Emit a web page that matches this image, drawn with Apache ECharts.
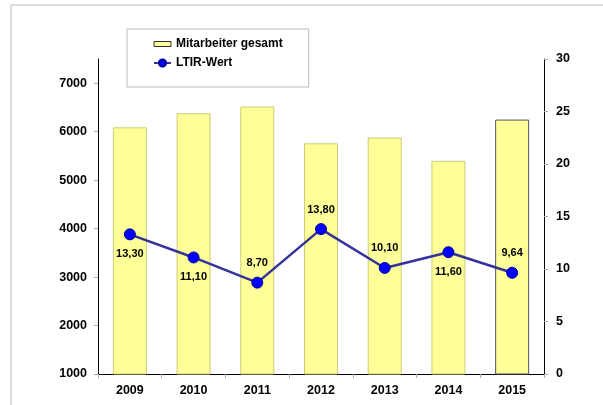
<!DOCTYPE html>
<html>
<head>
<meta charset="utf-8">
<script src="https://cdn.jsdelivr.net/npm/echarts@6/dist/echarts.min.js"></script>
<style>
  html, body { margin: 0; padding: 0; background: #fff; }
  #chart { width: 603px; height: 405px; }
</style>
</head>
<body>
<div id="chart"></div>
<script>
// Daten
const years = ['2009', '2010', '2011', '2012', '2013', '2014', '2015']
const mitarbeiter = [6090, 6380, 6520, 5760, 5880, 5400, 6250]
const ltir = [13.3, 11.1, 8.7, 13.8, 10.1, 11.6, 9.64]
const leftTicks = [1000, 2000, 3000, 4000, 5000, 6000, 7000]
const rightTicks = [0, 5, 10, 15, 20, 25, 30]

// Label oben/unten je Punkt
const labelPos = ['bottom', 'bottom', 'top', 'top', 'top', 'bottom', 'top']

const font = "'Liberation Sans', Arial, sans-serif"
const chart = echarts.init(document.getElementById('chart'))

const barData = mitarbeiter.map((v, i) => {
  if (i === years.length - 1) {
    return { value: v, itemStyle: { borderColor: '#555' } }
  }
  return v
})

const lineData = ltir.map((v, i) => ({
  value: v,
  label: { position: labelPos[i] }
}))

const axisText = { color: '#000', fontSize: 12.5, fontWeight: 'bold', fontFamily: font }

const option = {
  animation: false,
  textStyle: { fontFamily: font },
  graphic: [
    {
      type: 'rect',
      z: -10,
      shape: { x: 11, y: 5, width: 700, height: 500 },
      style: { fill: 'none', stroke: '#b8b8b8', lineWidth: 1 }
    }
  ],
  legend: {
    orient: 'vertical',
    left: 127,
    top: 29,
    padding: [8, 26, 17, 26],
    borderColor: '#bdbdbd',
    borderWidth: 1,
    itemWidth: 17,
    itemHeight: 9,
    itemGap: 5,
    itemTextGap: 3,
    selectedMode: false,
    textStyle: { fontFamily: font, fontSize: 12, fontWeight: 'bold', color: '#000', lineHeight: 14 },
    data: [
      {
        name: 'Mitarbeiter gesamt',
        icon: 'path://M0,0H17V5H0Z',
        itemStyle: { color: '#ffff99', borderColor: '#333', borderWidth: 1 }
      },
      { name: 'LTIR-Wert' }
    ]
  },
  grid: { left: 98, right: 59, top: 59, bottom: 31 },
  xAxis: {
    type: 'category',
    data: years,
    boundaryGap: true,
    axisLine: { lineStyle: { color: '#000', width: 1 } },
    axisTick: { show: true, length: 4, lineStyle: { color: '#aaa' } },
    axisLabel: { ...axisText, margin: 10 }
  },
  yAxis: [
    {
      type: 'value',
      min: 1000,
      max: 7500,
      interval: 1000,
      splitLine: { show: false },
      axisLine: { show: true, lineStyle: { color: '#000', width: 1 } },
      axisTick: { show: true, length: 4, lineStyle: { color: '#aaa' }, customValues: leftTicks },
      axisLabel: {
        ...axisText,
        margin: 11,
        customValues: leftTicks,
        formatter: (v) => String(v)
      }
    },
    {
      type: 'value',
      min: 0,
      max: 30,
      interval: 5,
      position: 'right',
      splitLine: { show: false },
      axisLine: { show: true, lineStyle: { color: '#000', width: 1 } },
      axisTick: { show: true, length: 4, lineStyle: { color: '#aaa' }, customValues: rightTicks },
      axisLabel: {
        ...axisText,
        margin: 12,
        customValues: rightTicks,
        formatter: (v) => String(v)
      }
    }
  ],
  series: [
    {
      name: 'Mitarbeiter gesamt',
      type: 'bar',
      barWidth: 34,
      data: barData,
      itemStyle: { color: '#ffff99', borderColor: '#cccc77', borderWidth: 1 }
    },
    {
      name: 'LTIR-Wert',
      type: 'line',
      yAxisIndex: 1,
      data: lineData,
      symbol: 'circle',
      symbolSize: 11,
      lineStyle: { color: '#333399', width: 2.5 },
      itemStyle: { color: '#0000ff', borderColor: '#000099', borderWidth: 1 },
      label: {
        show: true,
        distance: 8,
        color: '#000',
        fontSize: 11,
        fontWeight: 'bold',
        fontFamily: font,
        formatter: (p) => p.value.toFixed(2).replace('.', ',')
      }
    }
  ]
}

chart.setOption(option)
</script>
</body>
</html>
